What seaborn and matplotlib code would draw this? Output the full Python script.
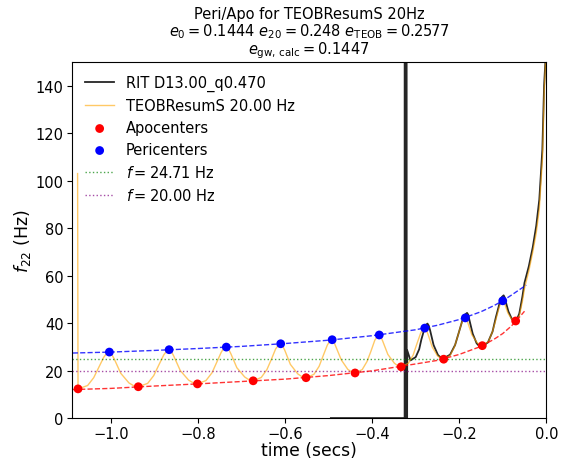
import numpy as np
import pandas as pd
import matplotlib
matplotlib.use('Agg')
import matplotlib.pyplot as plt
import seaborn as sns

# Apocentros / pericentros
apo_t = [-1.076, -0.9375, -0.8016, -0.6735, -0.552, -0.4394, -0.3334, -0.2357, -0.147, -0.0703]
apo_f = [12.3, 13.2, 14.4, 15.7, 17.0, 19.0, 21.6, 24.8, 30.5, 40.9]
peri_t = [-1.004, -0.8666, -0.7352, -0.6103, -0.492, -0.3838, -0.2792, -0.186, -0.100]
peri_f = [27.8, 28.8, 29.9, 31.3, 33.0, 35.0, 37.9, 42.2, 49.4]

# Ajustes (lineas discontinuas)
fit_peri_t = [-1.088, -1.0, -0.9, -0.8, -0.7, -0.6, -0.5, -0.4, -0.3, -0.25, -0.2, -0.15, -0.12, -0.1, -0.08, -0.06, -0.046]
fit_peri_f = [27.4, 27.8, 28.5, 29.3, 30.2, 31.4, 32.8, 34.7, 37.2, 39.1, 41.5, 44.8, 47.4, 49.4, 51.8, 54.3, 56.0]
fit_apo_t = [-1.088, -1.0, -0.9, -0.8, -0.7, -0.6, -0.5, -0.4, -0.3, -0.25, -0.2, -0.15, -0.12, -0.1, -0.08, -0.065, -0.05]
fit_apo_f = [12.0, 12.5, 13.5, 14.4, 15.4, 16.4, 17.9, 19.9, 22.8, 24.3, 26.8, 30.2, 33.2, 35.6, 38.8, 41.8, 45.0]

# TEOBResumS 20 Hz
teob_t = [-1.077, -1.076, -1.054, -1.040, -1.029, -1.017, -1.010, -1.004,
          -0.999, -0.993, -0.978, -0.959, -0.948, -0.9375,
          -0.916, -0.902, -0.891, -0.879, -0.872, -0.8666,
          -0.861, -0.856, -0.841, -0.822, -0.811, -0.8016,
          -0.782, -0.768, -0.758, -0.747, -0.741, -0.7352,
          -0.730, -0.725, -0.711, -0.693, -0.683, -0.6735,
          -0.655, -0.642, -0.632, -0.622, -0.615, -0.6103,
          -0.606, -0.601, -0.588, -0.571, -0.561, -0.552,
          -0.534, -0.522, -0.513, -0.503, -0.497, -0.492,
          -0.488, -0.484, -0.471, -0.456, -0.447, -0.4394,
          -0.423, -0.412, -0.403, -0.394, -0.388, -0.3838,
          -0.380, -0.376, -0.364, -0.349, -0.341, -0.3334,
          -0.317, -0.306, -0.298, -0.289, -0.284, -0.2792,
          -0.276, -0.272, -0.262, -0.250, -0.242, -0.2357,
          -0.221, -0.211, -0.203, -0.195, -0.190, -0.186,
          -0.183, -0.180, -0.171, -0.159, -0.153, -0.147,
          -0.133, -0.124, -0.116, -0.108, -0.104, -0.100,
          -0.098, -0.095, -0.088, -0.080, -0.075, -0.0703,
          -0.062, -0.055, -0.050, -0.040, -0.031, -0.023, -0.016, -0.0085, -0.0046, -0.001]
teob_f = [103.0, 12.3, 13.7, 17.0, 21.1, 25.6, 27.3, 27.8,
          26.9, 25.0, 18.9, 14.8, 13.6, 13.2,
          14.6, 17.9, 22.1, 26.6, 28.3, 28.8,
          27.9, 26.1, 20.0, 16.0, 14.8, 14.4,
          15.8, 19.1, 23.2, 27.7, 29.4, 29.9,
          29.0, 27.2, 21.2, 17.3, 16.1, 15.7,
          17.1, 20.4, 24.6, 29.1, 30.8, 31.3,
          30.4, 28.6, 22.6, 18.6, 17.4, 17.0,
          18.4, 21.8, 26.1, 30.8, 32.5, 33.0,
          32.2, 30.3, 24.5, 20.5, 19.4, 19.0,
          20.4, 23.8, 28.1, 32.8, 34.5, 35.0,
          34.2, 32.5, 26.8, 23.1, 22.0, 21.6,
          23.1, 26.5, 30.9, 35.6, 37.4, 37.9,
          37.1, 35.4, 29.9, 26.2, 25.2, 24.8,
          26.4, 30.0, 34.7, 39.8, 41.7, 42.2,
          41.5, 40.0, 35.1, 31.8, 30.9, 30.5,
          32.2, 36.2, 41.3, 46.8, 48.8, 49.4,
          48.9, 47.8, 44.2, 41.8, 41.2, 40.9,
          43.0, 49.0, 54.6, 62.0, 70.0, 78.0, 88.0, 110.0, 138.0, 152.0]

# RIT D13.00_q0.470
rit_t = [-0.495, -0.3255, -0.3250, -0.3235, -0.3220, -0.3205, -0.3195, -0.312,
         -0.300, -0.292, -0.287, -0.280, -0.276, -0.273,
         -0.270, -0.267, -0.259, -0.249, -0.242, -0.237,
         -0.221, -0.2095, -0.201, -0.192, -0.186, -0.182,
         -0.179, -0.177, -0.169, -0.160, -0.154, -0.149,
         -0.134, -0.1235, -0.116, -0.107, -0.102, -0.098,
         -0.096, -0.094, -0.087, -0.079, -0.074, -0.070,
         -0.062, -0.055, -0.050, -0.040, -0.031, -0.023, -0.016, -0.009, -0.005, -0.0015]
rit_f = [0.0, 0.0, 1000.0, -100.0, 1000.0, -100.0, 28.5, 24.3,
         25.7, 29.0, 33.1, 37.6, 39.3, 39.8,
         38.9, 37.0, 30.8, 26.6, 25.4, 25.0,
         26.7, 30.8, 36.0, 41.6, 43.7, 44.3,
         43.4, 41.6, 35.5, 31.5, 30.3, 29.9,
         31.9, 36.4, 42.3, 48.6, 51.0, 51.7,
         51.0, 49.6, 44.9, 41.7, 40.8, 40.5,
         44.0, 51.0, 57.0, 64.0, 72.0, 81.0, 92.0, 113.0, 140.0, 152.0]

f_ref = 24.71
f_low = 20.00

fig = plt.figure(figsize=(5.62, 4.6), dpi=100)
ax = fig.add_axes([0.128, 0.089, 0.844, 0.774])

sns.lineplot(x=rit_t, y=rit_f, ax=ax, sort=False, estimator=None, color='k', alpha=0.85, lw=1.3,
             label='RIT D13.00_q0.470')
sns.lineplot(x=teob_t, y=teob_f, ax=ax, sort=False, estimator=None, color='orange', alpha=0.6, lw=1.0,
             label='TEOBResumS 20.00 Hz')
sns.scatterplot(x=apo_t, y=apo_f, ax=ax, color='red', s=40, edgecolor='none', label='Apocenters', zorder=5)
sns.scatterplot(x=peri_t, y=peri_f, ax=ax, color='blue', s=40, edgecolor='none', label='Pericenters', zorder=5)
ax.axhline(f_ref, color='green', ls=':', lw=1, alpha=0.7, label=r'$f=24.71$ Hz')
ax.axhline(f_low, color='purple', ls=':', lw=1, alpha=0.7, label=r'$f=20.00$ Hz')
sns.lineplot(x=fit_peri_t, y=fit_peri_f, ax=ax, sort=False, estimator=None, color='blue', ls='--',
             lw=1, alpha=0.8, label='_nolegend_')
sns.lineplot(x=fit_apo_t, y=fit_apo_f, ax=ax, sort=False, estimator=None, color='red', ls='--',
             lw=1, alpha=0.8, label='_nolegend_')

ax.set_xlim(-1.09, 0.0)
ax.set_ylim(0, 150)
ax.set_xlabel('time (secs)', fontsize=12.3, labelpad=0)
ax.set_ylabel(r'$f_{22}$ (Hz)', fontsize=12.5, labelpad=2)
ax.tick_params(labelsize=10.5, pad=2.5)
ax.set_title('Peri/Apo for TEOBResumS 20Hz\n'
             r'$e_0 = 0.1444$ $e_{20} = 0.248$ $e_{\rm TEOB} = 0.2577$' '\n'
             r'$e_{\rm gw,\, calc} = 0.1447$', fontsize=10.5, linespacing=1.0)
ax.legend(loc='upper left', frameon=False, fontsize=10.5, handlelength=2.0, labelspacing=0.48)

plt.savefig('out.png', dpi=100)
